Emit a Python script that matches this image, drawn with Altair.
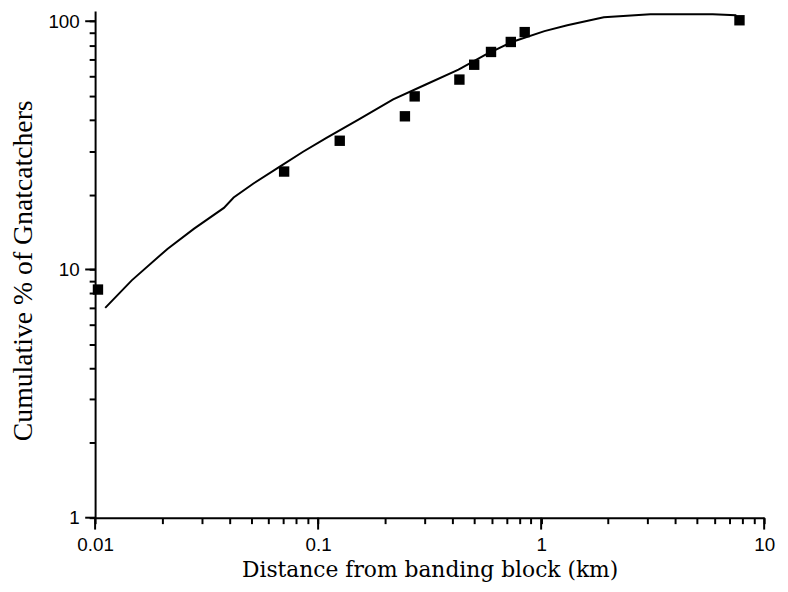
import altair as alt
import pandas as pd

# Observed cumulative percentages (squares)
pt_dist = [0.0103, 0.0704, 0.125, 0.245, 0.271, 0.430, 0.501, 0.596, 0.731, 0.844, 7.75]
pt_pct = [8.3, 24.8, 33.0, 41.4, 49.8, 58.2, 66.8, 75.2, 82.5, 90.4, 100.9]

# Fitted curve (line)
fit_dist = [0.0111, 0.0146, 0.0211, 0.0278, 0.0378, 0.0418, 0.0513, 0.0676, 0.0856,
            0.109, 0.153, 0.217, 0.304, 0.426, 0.561, 0.739, 1.035, 1.31, 1.91,
            3.09, 5.88, 7.44, 7.6]
fit_pct = [7.0, 9.04, 12.1, 14.6, 17.7, 19.5, 22.2, 26.0, 29.8,
           33.9, 40.3, 48.4, 55.6, 63.8, 73.2, 82.5, 91.2, 96.4, 103.7,
           106.6, 106.6, 105.8, 101.5]

x_major = [0.01, 0.1, 1, 10]
x_ticks = [0.01, 0.02, 0.03, 0.04, 0.05, 0.06, 0.07, 0.08, 0.09,
           0.1, 0.2, 0.3, 0.4, 0.5, 0.6, 0.7, 0.8, 0.9,
           1, 2, 3, 4, 5, 6, 7, 8, 9, 10]
y_major = [1, 10, 100]
y_ticks = [1, 2, 3, 4, 5, 6, 7, 8, 9, 10, 20, 30, 40, 50, 60, 70, 80, 90, 100]

pts = pd.DataFrame({"x": pt_dist, "y": pt_pct})
fit = pd.DataFrame({"x": fit_dist, "y": fit_pct})
xmaj = pd.DataFrame({"x": x_major})
ymaj = pd.DataFrame({"y": y_major})

W, H = 676, 512
xscale = alt.Scale(type="log", domain=[0.01, 10])
yscale = alt.Scale(type="log", domain=[1, 110])

IS_MAJOR = "abs(log(datum.value)/LN10 - round(log(datum.value)/LN10)) < 1e-6"

common = dict(
    format="~g", labelExpr=f"({IS_MAJOR}) ? datum.label : ''",
    grid=False, labelOverlap=False, labelFlush=False,
    domainColor="black", domainWidth=2,
    ticks=True, tickColor="black", tickWidth=2, tickSize=6,
    labelColor="black", labelFont="Liberation Sans", labelFontSize=19,
    titleColor="black", titleFontWeight="normal", titleBaseline="alphabetic",
)

x_axis = alt.Axis(orient="bottom", values=x_ticks, title="Distance from banding block (km)",
                  labelPadding=12, titleFont="DejaVu Serif", titleFontSize=22,
                  titleY=59, **common)
y_axis = alt.Axis(orient="left", values=y_ticks, title="Cumulative % of Gnatcatchers",
                  labelPadding=10, titleFont="Liberation Serif", titleFontSize=28,
                  titleX=-64, titleY=262, **common)

x_enc = alt.X("x:Q", scale=xscale, axis=x_axis)
y_enc = alt.Y("y:Q", scale=yscale, axis=y_axis)

line = alt.Chart(fit).mark_line(color="black", strokeWidth=2).encode(x=x_enc, y=y_enc)
points = alt.Chart(pts).mark_square(color="black", size=110, opacity=1).encode(x=x_enc, y=y_enc)

# longer ticks at the decades
x_major_ticks = alt.Chart(xmaj).mark_rule(color="black", strokeWidth=2).encode(
    x=x_enc, y=alt.value(H), y2=alt.value(H + 12))
y_major_ticks = alt.Chart(ymaj).mark_rule(color="black", strokeWidth=2).encode(
    y=y_enc, x=alt.value(0), x2=alt.value(-10))

chart = alt.layer(line, points, x_major_ticks, y_major_ticks).properties(
    width=W, height=H,
    autosize=alt.AutoSizeParams(type="none"),
    padding={"left": 88, "top": 0, "right": 16, "bottom": 64},
    background="white",
).configure_view(stroke=None)

chart.save("out.html", embed_options={"renderer": "svg", "actions": False})
